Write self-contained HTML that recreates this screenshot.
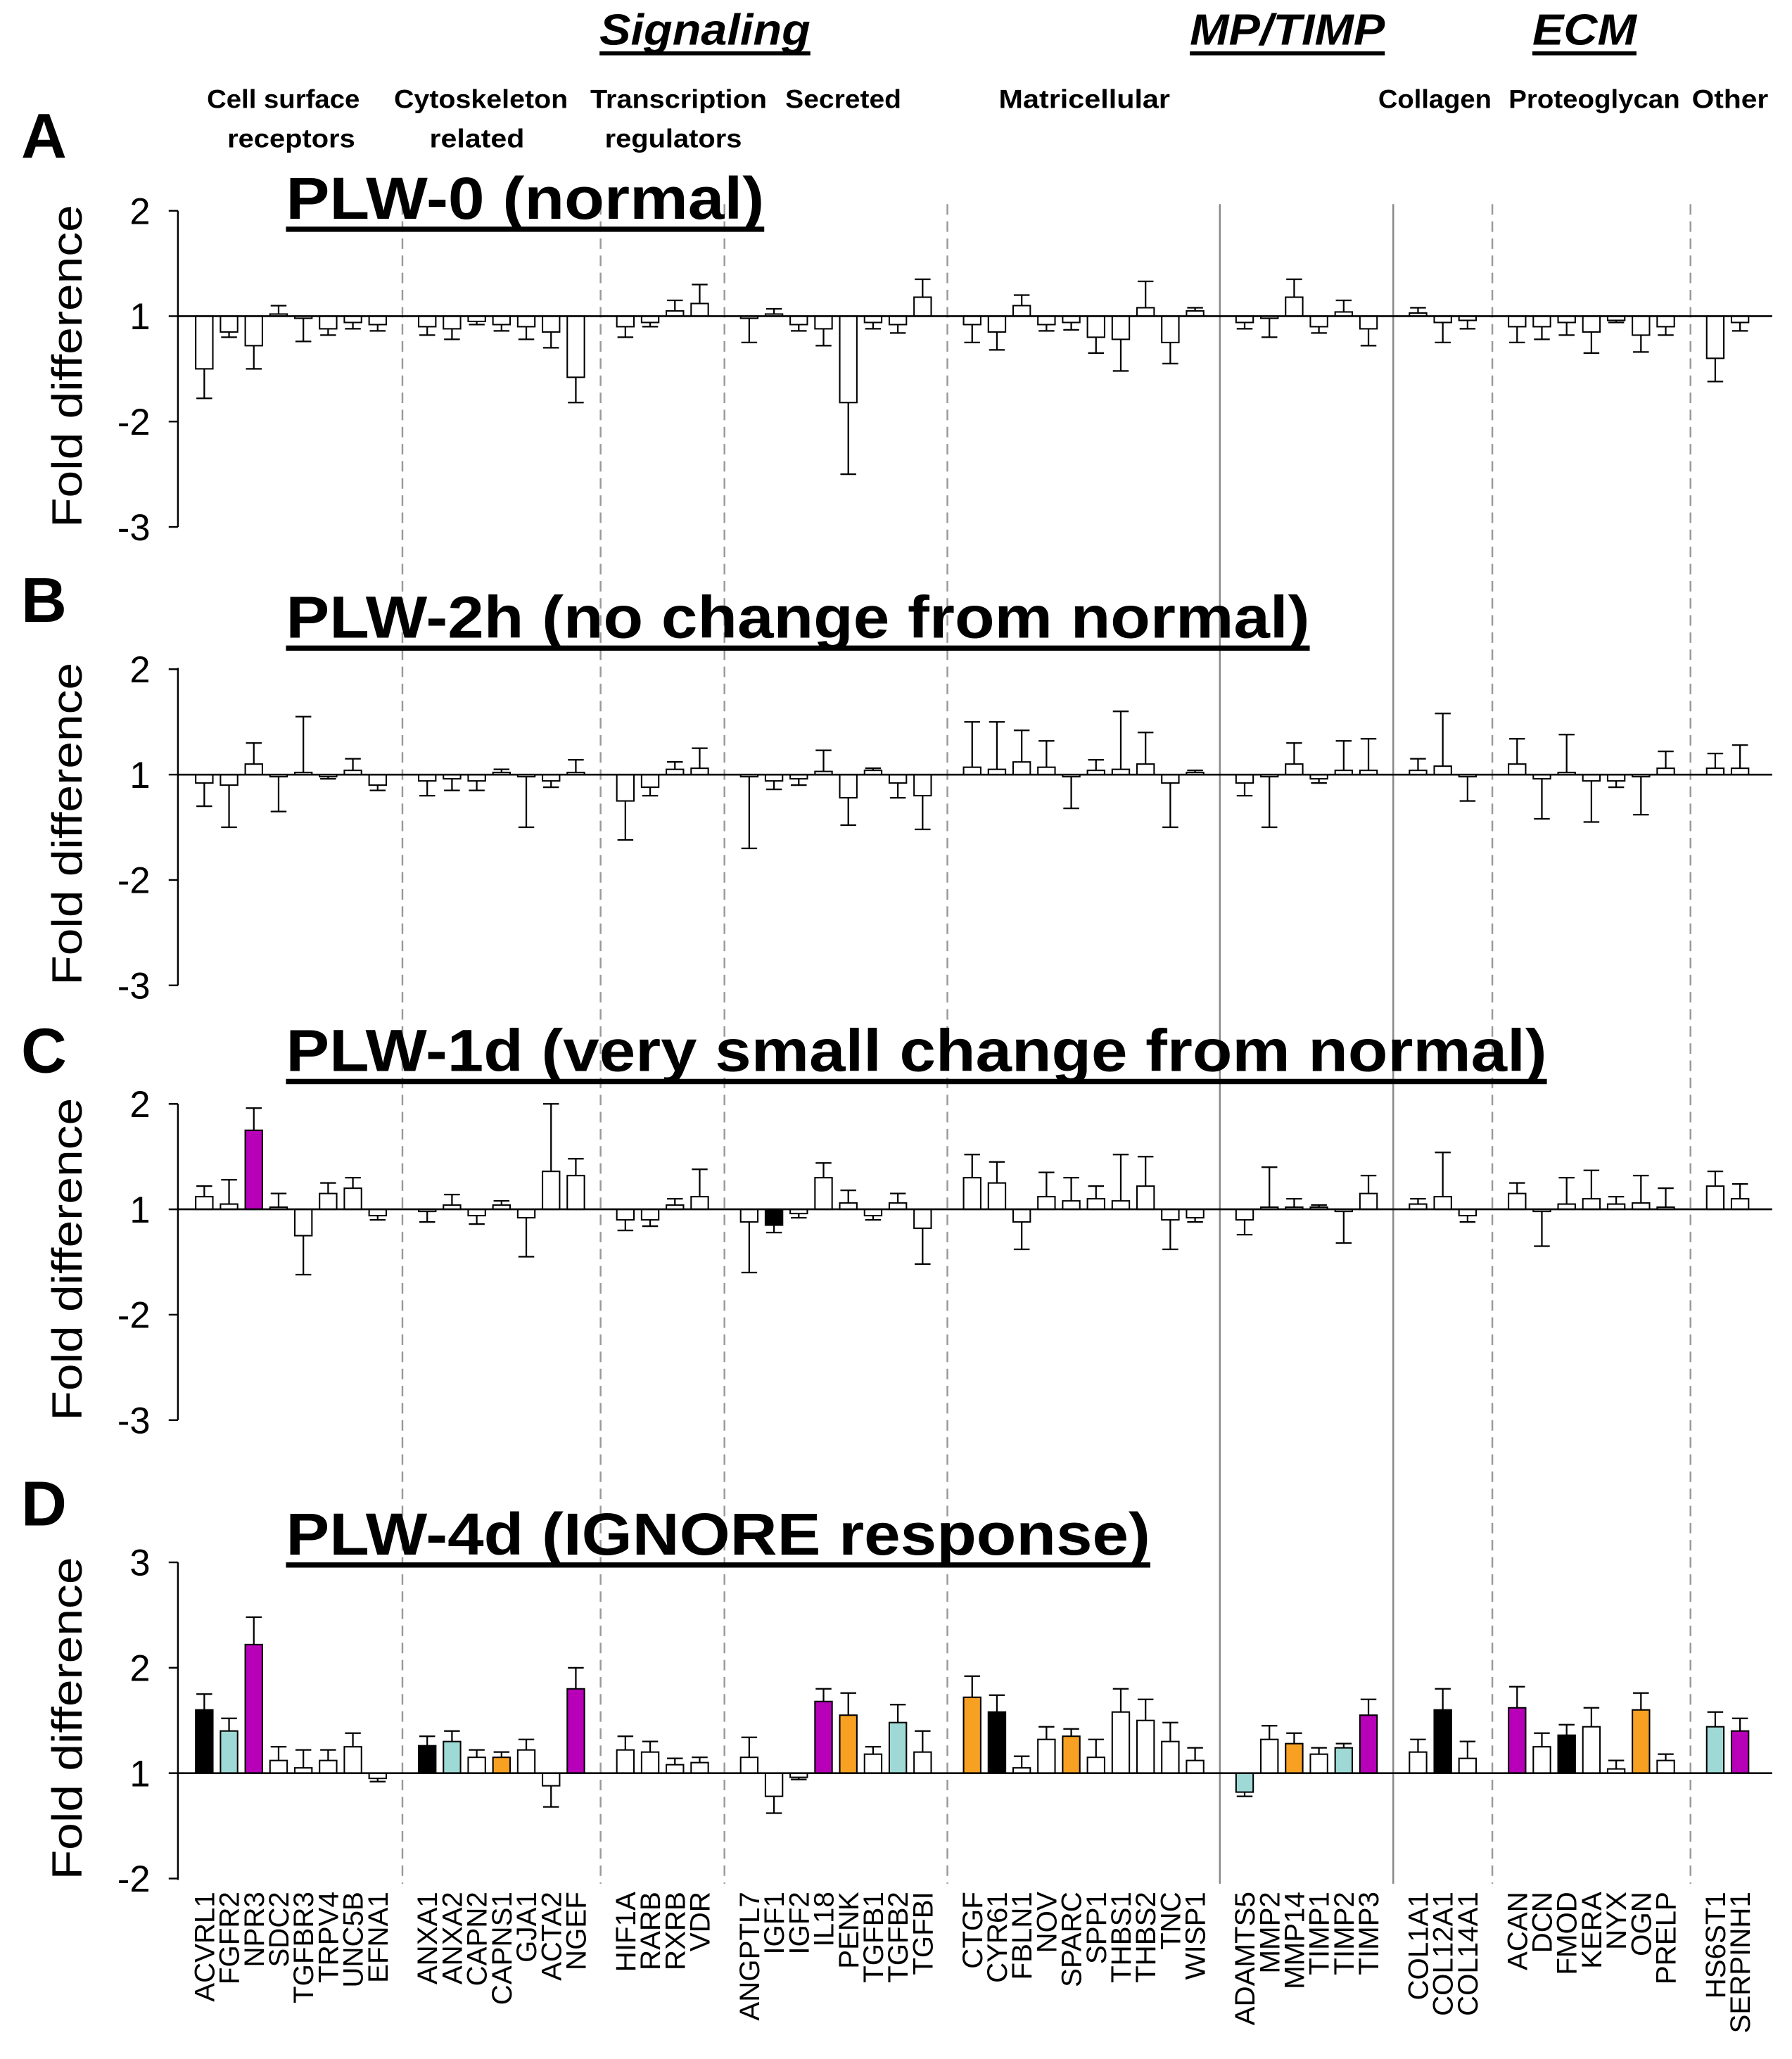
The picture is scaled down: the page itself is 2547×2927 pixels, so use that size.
<!DOCTYPE html>
<html><head><meta charset="utf-8"><style>
html,body{margin:0;padding:0;background:#fff;}
svg{display:block;}
text{font-family:"Liberation Sans",Arial,sans-serif;}
</style></head><body>
<svg id="s" width="2547" height="2927" viewBox="0 0 1360 1563" xmlns="http://www.w3.org/2000/svg"></svg>
<script>
const S=document.getElementById('s');let h='';
const genes=["ACVRL1","FGFR2","NPR3","SDC2","TGFBR3","TRPV4","UNC5B","EFNA1",null,"ANXA1","ANXA2","CAPN2","CAPNS1","GJA1","ACTA2","NGEF",null,"HIF1A","RARB","RXRB","VDR",null,"ANGPTL7","IGF1","IGF2","IL18","PENK","TGFB1","TGFB2","TGFBI",null,"CTGF","CYR61","FBLN1","NOV","SPARC","SPP1","THBS1","THBS2","TNC","WISP1",null,"ADAMTS5","MMP2","MMP14","TIMP1","TIMP2","TIMP3",null,"COL1A1","COL12A1","COL14A1",null,"ACAN","DCN","FMOD","KERA","NYX","OGN","PRELP",null,"HS6ST1","SERPINH1"];
const X=i=>155+18.8*i;
const A=[[-.5,-.78],[-.15,-.2],[-.28,-.5],[.02,.1],[-.02,-.24],[-.12,-.18],[-.06,-.12],[-.08,-.14],[-.1,-.18],[-.12,-.22],[-.05,-.08],[-.08,-.14],[-.1,-.22],[-.15,-.3],[-.58,-.82],[-.1,-.2],[-.06,-.1],[.05,.15],[.12,.3],[-.02,-.25],[.02,.07],[-.08,-.14],[-.12,-.28],[-.82,-1.5],[-.06,-.12],[-.08,-.16],[.18,.35],[-.08,-.25],[-.15,-.32],[.1,.2],[-.08,-.14],[-.06,-.13],[-.2,-.35],[-.22,-.52],[.08,.33],[-.25,-.45],[.05,.08],[-.06,-.12],[-.02,-.2],[.18,.35],[-.1,-.16],[.04,.15],[-.12,-.28],[.03,.08],[-.06,-.25],[-.04,-.12],[-.1,-.25],[-.1,-.22],[-.06,-.18],[-.15,-.35],[-.04,-.06],[-.18,-.34],[-.1,-.18],[-.4,-.62],[-.06,-.14]];
const B=[[-.08,-.3],[-.1,-.5],[.1,.3],[-.02,-.35],[.02,.55],[-.02,-.04],[.04,.15],[-.1,-.15],[-.06,-.2],[-.04,-.15],[-.06,-.15],[.02,.05],[-.02,-.5],[-.06,-.12],[.02,.14],[-.25,-.62],[-.12,-.2],[.05,.12],[.06,.25],[-.02,-.7],[-.06,-.14],[-.04,-.1],[.03,.23],[-.22,-.48],[.04,.06],[-.08,-.22],[-.2,-.52],[.07,.5],[.05,.5],[.12,.42],[.07,.32],[-.02,-.32],[.04,.14],[.05,.6],[.1,.4],[-.08,-.5],[.02,.04],[-.08,-.2],[-.02,-.5],[.1,.3],[-.04,-.08],[.04,.32],[.04,.34],[.04,.15],[.08,.58],[-.02,-.25],[.1,.34],[-.04,-.42],[.02,.38],[-.06,-.45],[-.06,-.12],[-.02,-.38],[.06,.22],[.06,.2],[.06,.28]];
const C=[[.12,.22],[.05,.28],[.75,.96,'m'],[.02,.15],[-.25,-.62],[.15,.25],[.2,.3],[-.06,-.1],[-.02,-.12],[.04,.14],[-.06,-.14],[.04,.08],[-.08,-.45],[.36,1.0],[.32,.48],[-.1,-.2],[-.1,-.16],[.04,.1],[.12,.38],[-.12,-.6],[-.15,-.22,'k'],[-.04,-.08],[.3,.44],[.06,.18],[-.06,-.1],[.06,.15],[-.18,-.52],[.3,.52],[.25,.45],[-.12,-.38],[.12,.35],[.08,.3],[.1,.22],[.08,.52],[.22,.5],[-.1,-.38],[-.08,-.12],[-.1,-.24],[.02,.4],[.02,.1],[.02,.04],[-.02,-.32],[.15,.32],[.05,.1],[.12,.54],[-.06,-.12],[.15,.25],[-.02,-.35],[.05,.3],[.1,.37],[.05,.12],[.06,.32],[.02,.2],[.22,.36],[.1,.24]];
const D=[[.6,.75,'k'],[.4,.52,'c'],[1.22,1.48,'m'],[.12,.25],[.05,.22],[.12,.22],[.25,.38],[-.05,-.08],[.26,.35,'k'],[.3,.4,'c'],[.15,.22],[.15,.2,'o'],[.22,.32],[-.12,-.32],[.8,1.0,'m'],[.22,.35],[.2,.3],[.08,.14],[.1,.15],[.15,.34],[-.22,-.38],[-.04,-.06],[.68,.8,'m'],[.55,.76,'o'],[.18,.25],[.48,.65,'c'],[.2,.4],[.72,.92,'o'],[.58,.74,'k'],[.05,.16],[.32,.44],[.35,.42,'o'],[.15,.32],[.58,.8],[.5,.7],[.3,.48],[.12,.24],[-.18,-.22,'c'],[.32,.45],[.28,.38,'o'],[.18,.24],[.24,.28,'c'],[.55,.7,'m'],[.2,.32],[.6,.8,'k'],[.14,.3],[.62,.82,'m'],[.25,.38],[.36,.46,'k'],[.44,.62],[.04,.12],[.6,.76,'o'],[.12,.18],[.44,.58,'c'],[.4,.52,'m']];
const col={k:'#000',c:'#9ed9d5',m:'#b700b7',o:'#f7a021'};
const panels=[{y1:240,d:A,ticks:[[2,1],[1,0],[-2,-1],[-3,-2]],title:'PLW-0 (normal)',tw:363,ty:168,L:'A',ly:120,top:160,bot:400},
{y1:588,d:B,ticks:[[2,1],[1,0],[-2,-1],[-3,-2]],title:'PLW-2h (no change from normal)',tw:777,ty:486,L:'B',ly:472,top:507,bot:748},
{y1:918,d:C,ticks:[[2,1],[1,0],[-2,-1],[-3,-2]],title:'PLW-1d (very small change from normal)',tw:957,ty:815,L:'C',ly:814,top:838,bot:1078},
{y1:1346,d:D,ticks:[[3,2],[2,1],[1,0],[-2,-1]],title:'PLW-4d (IGNORE response)',tw:656,ty:1182,L:'D',ly:1158,top:1186,bot:1427}];
const divs=[8,16,21,30,41,48,52,60];
divs.forEach(i=>{const x=X(i);const solid=(i==41||i==48);
h+=`<line x1="${x}" y1="155" x2="${x}" y2="1430" stroke="${solid?'#888':'#999'}" stroke-width="1.3" ${solid?'':'stroke-dasharray="8,5"'}/>`;});
panels.forEach(p=>{
 h+=`<line x1="135" y1="${p.top}" x2="135" y2="${p.bot}" stroke="#000" stroke-width="1.3"/>`;
 p.ticks.forEach(t=>{const y=p.y1-t[1]*80;h+=`<line x1="128" y1="${y}" x2="135" y2="${y}" stroke="#000" stroke-width="1.3"/><text x="114" y="${y+10}" font-size="28" text-anchor="end">${t[0]}</text>`;});
 h+=`<text x="0" y="0" font-size="32" text-anchor="middle" textLength="245" lengthAdjust="spacingAndGlyphs" transform="translate(62,${(p.top+p.bot)/2-2}) rotate(-90)">Fold difference</text>`;
 h+=`<text x="16" y="${p.ly}" font-size="48" font-weight="bold">${p.L}</text>`;
 h+=`<text x="217" y="${p.ty-2}" font-size="45" font-weight="bold" textLength="${p.tw}" lengthAdjust="spacingAndGlyphs">${p.title}</text><rect x="217" y="${p.ty+4}" width="${p.tw}" height="4" fill="#000"/>`;
 let k=0;
 genes.forEach((g,i)=>{if(!g)return;const v=p.d[k++];const x=X(i);const yb=p.y1-v[0]*80,ye=p.y1-v[1]*80;
  const f=v[2]?col[v[2]]:'#fff';const y0=Math.min(yb,p.y1),hh=Math.abs(yb-p.y1);
  h+=`<line x1="${x}" y1="${yb}" x2="${x}" y2="${ye}" stroke="#000" stroke-width="1.2"/><line x1="${x-6}" y1="${ye}" x2="${x+6}" y2="${ye}" stroke="#000" stroke-width="1.2"/>`;
  h+=`<rect x="${x-6.5}" y="${y0}" width="13" height="${Math.max(hh,0.5)}" fill="${f}" stroke="#000" stroke-width="1.1"/>`;});
 h+=`<line x1="135" y1="${p.y1}" x2="1345" y2="${p.y1}" stroke="#000" stroke-width="1.4"/>`;
});
genes.forEach((g,i)=>{if(!g)return;h+=`<text font-size="21.5" text-anchor="end" transform="translate(${X(i)+7.5},1436) rotate(-90)">${g}</text>`;});
[['Signaling',455,160],['MP/TIMP',903,148],['ECM',1163,79]].forEach(a=>{h+=`<text x="${a[1]}" y="34" font-size="33" font-weight="bold" font-style="italic" textLength="${a[2]}" lengthAdjust="spacingAndGlyphs">${a[0]}</text><rect x="${a[1]}" y="39" width="${a[2]}" height="3" fill="#000"/>`;});
[['Cell surface',215,82,116],['receptors',221,112,97],['Cytoskeleton',365,82,132],['related',362,112,72],['Transcription',515,82,134],['regulators',511,112,104],['Secreted',640,82,88],['Matricellular',823,82,130],['Collagen',1089,82,86],['Proteoglycan',1210,82,130],['Other',1313,82,58]].forEach(a=>{h+=`<text x="${a[1]}" y="${a[2]}" font-size="20" font-weight="bold" text-anchor="middle" textLength="${a[3]}" lengthAdjust="spacingAndGlyphs">${a[0]}</text>`;});
S.innerHTML=h;
</script>
</body></html>
